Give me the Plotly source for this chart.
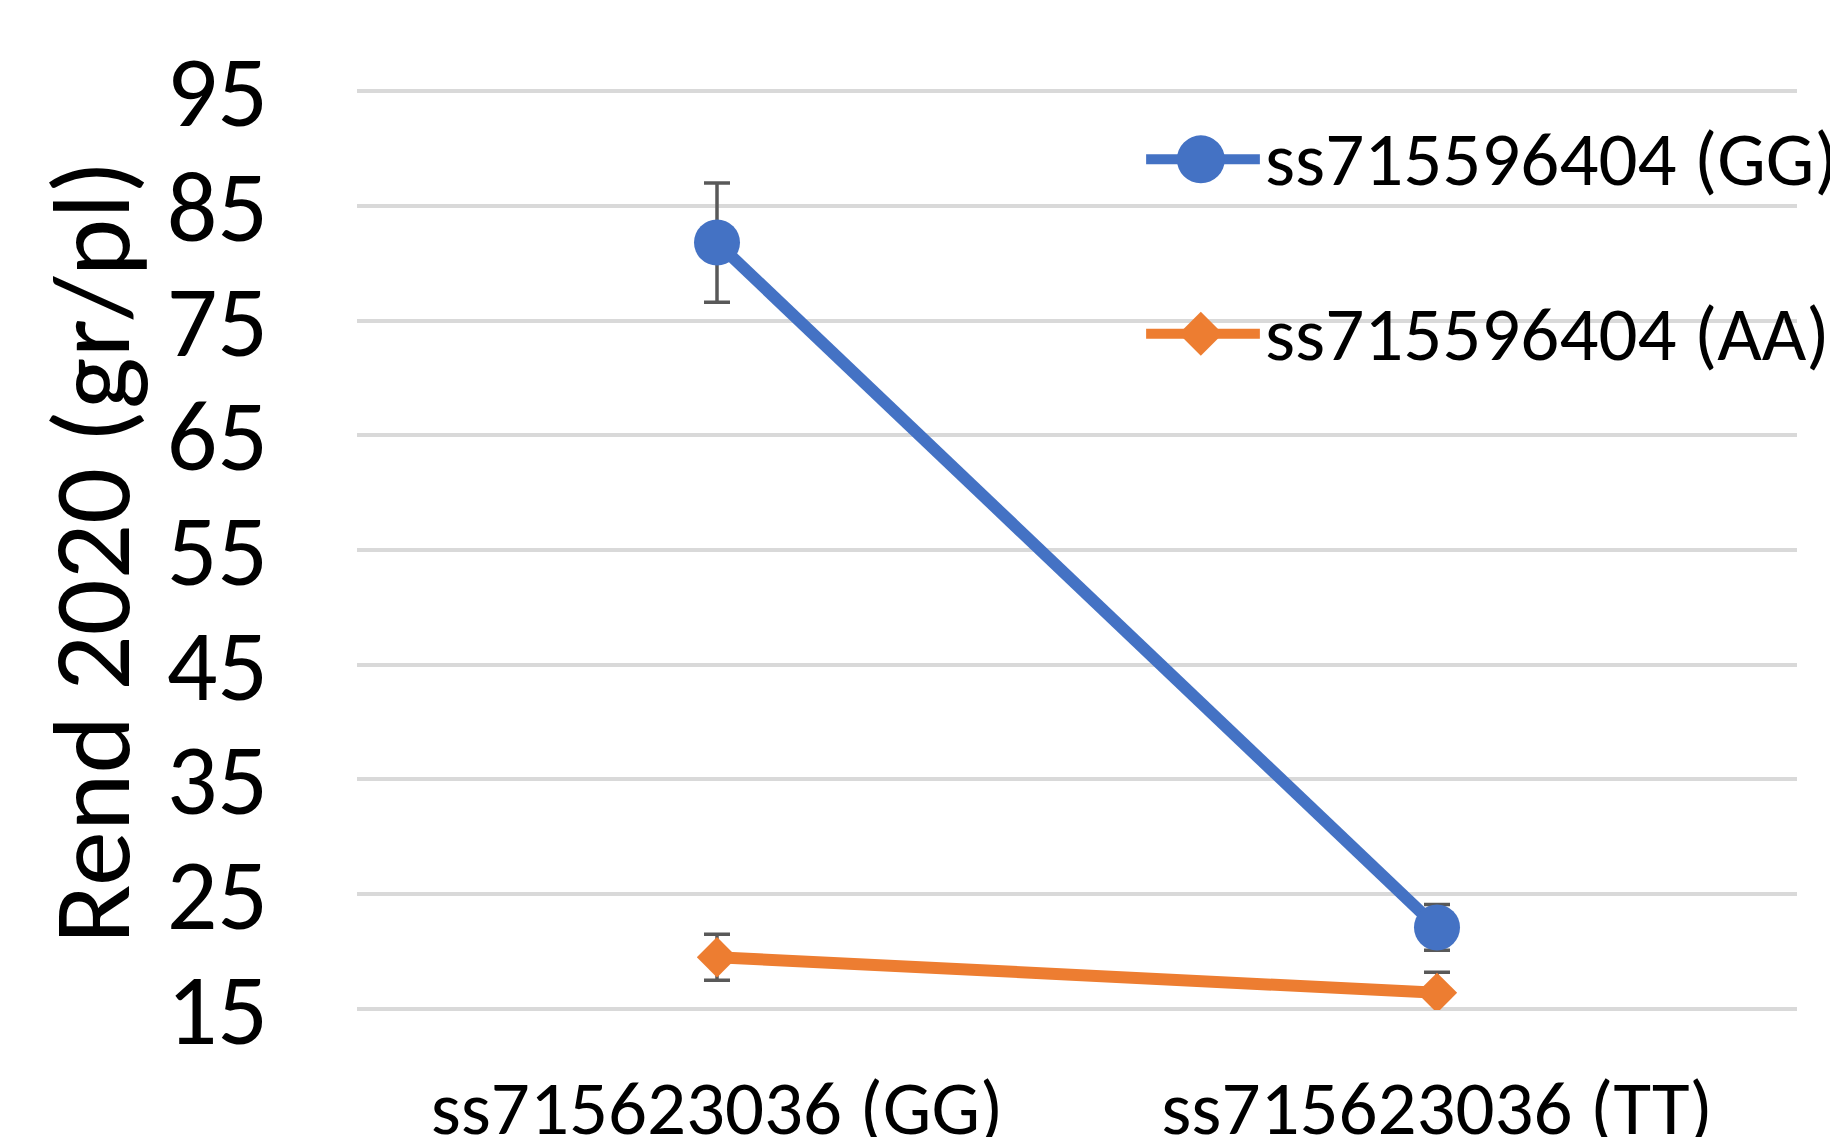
import plotly.graph_objects as go

categories = ["ss715623036 (GG)", "ss715623036 (TT)"]
series_names = ["ss715596404 (GG)", "ss715596404 (AA)"]
gg_values = [81.8, 22.1]
gg_errors = [5.2, 2.0]
aa_values = [19.5, 16.4]
aa_errors = [2.0, 1.8]
y_ticks = [15, 25, 35, 45, 55, 65, 75, 85, 95]

BLUE = "#4472C4"
ORANGE = "#ED7D31"
ERR = "#595959"
GRID = "#D9D9D9"
FONT = "Carlito, Calibri, Liberation Sans, Arial, sans-serif"

fig = go.Figure()
fig.add_trace(go.Scatter(
    x=categories, y=gg_values, name=series_names[0], mode="lines+markers",
    line=dict(color=BLUE, width=12),
    marker=dict(symbol="circle", size=46, color=BLUE),
    error_y=dict(type="data", array=gg_errors, visible=True, color=ERR, thickness=3.5, width=13),
    showlegend=False,
))
fig.add_trace(go.Scatter(
    x=categories, y=aa_values, name=series_names[1], mode="lines+markers",
    line=dict(color=ORANGE, width=12),
    marker=dict(symbol="diamond", size=31, color=ORANGE),
    error_y=dict(type="data", array=aa_errors, visible=True, color=ERR, thickness=3.5, width=13),
    showlegend=False,
))

# manual legend (Excel-style large keys)
legend_rows = [(0.9246, BLUE, "circle", series_names[0]), (0.735, ORANGE, "diamond", series_names[1])]
shapes = []
annotations = []
for ypos, col, sym, name in legend_rows:
    shapes.append(dict(type="line", xref="paper", yref="paper", x0=0.548, x1=0.627, y0=ypos, y1=ypos,
                       line=dict(color=col, width=10), layer="above"))
    if sym == "circle":
        shapes.append(dict(type="circle", xref="paper", yref="paper", xsizemode="pixel", ysizemode="pixel",
                           xanchor=0.586, yanchor=ypos, x0=-24, x1=24, y0=-24, y1=24,
                           fillcolor=col, line=dict(width=0), layer="above"))
    else:
        shapes.append(dict(type="path", xref="paper", yref="paper", xsizemode="pixel", ysizemode="pixel",
                           xanchor=0.586, yanchor=ypos, path="M0,22 L22,0 L0,-22 L-22,0 Z",
                           fillcolor=col, line=dict(width=0), layer="above"))
    annotations.append(dict(text=name, xref="paper", yref="paper", x=0.629, y=ypos, xanchor="left",
                            yanchor="middle", showarrow=False, font=dict(family=FONT, size=77, color="#000000")))

annotations.append(dict(text="Rend 2020 (gr/pl)", xref="paper", yref="paper", x=-0.184, y=0.498,
                        xanchor="center", yanchor="middle", textangle=-90, showarrow=False,
                        font=dict(family=FONT, size=110, color="#000000")))

fig.update_layout(
    width=1838, height=1137,
    margin=dict(l=349, r=49, t=82, b=135, autoexpand=False),
    paper_bgcolor="white", plot_bgcolor="white",
    font=dict(family=FONT, color="#000000"),
    shapes=shapes, annotations=annotations,
    showlegend=False,
)
fig.update_xaxes(
    type="category", range=[-0.5, 1.5], showgrid=False, zeroline=False, showline=False,
    ticks="", tickfont=dict(family=FONT, size=77, color="#000000"), ticklabelstandoff=46,
)
fig.update_yaxes(
    range=[14.9, 95.1], tickvals=y_ticks, ticktext=[str(v) for v in y_ticks],
    showgrid=True, gridcolor=GRID, gridwidth=3.5, zeroline=False, showline=False,
    ticks="", tickfont=dict(family=FONT, size=100, color="#000000"), ticklabelstandoff=88,
)

fig.write_html("out.html")
